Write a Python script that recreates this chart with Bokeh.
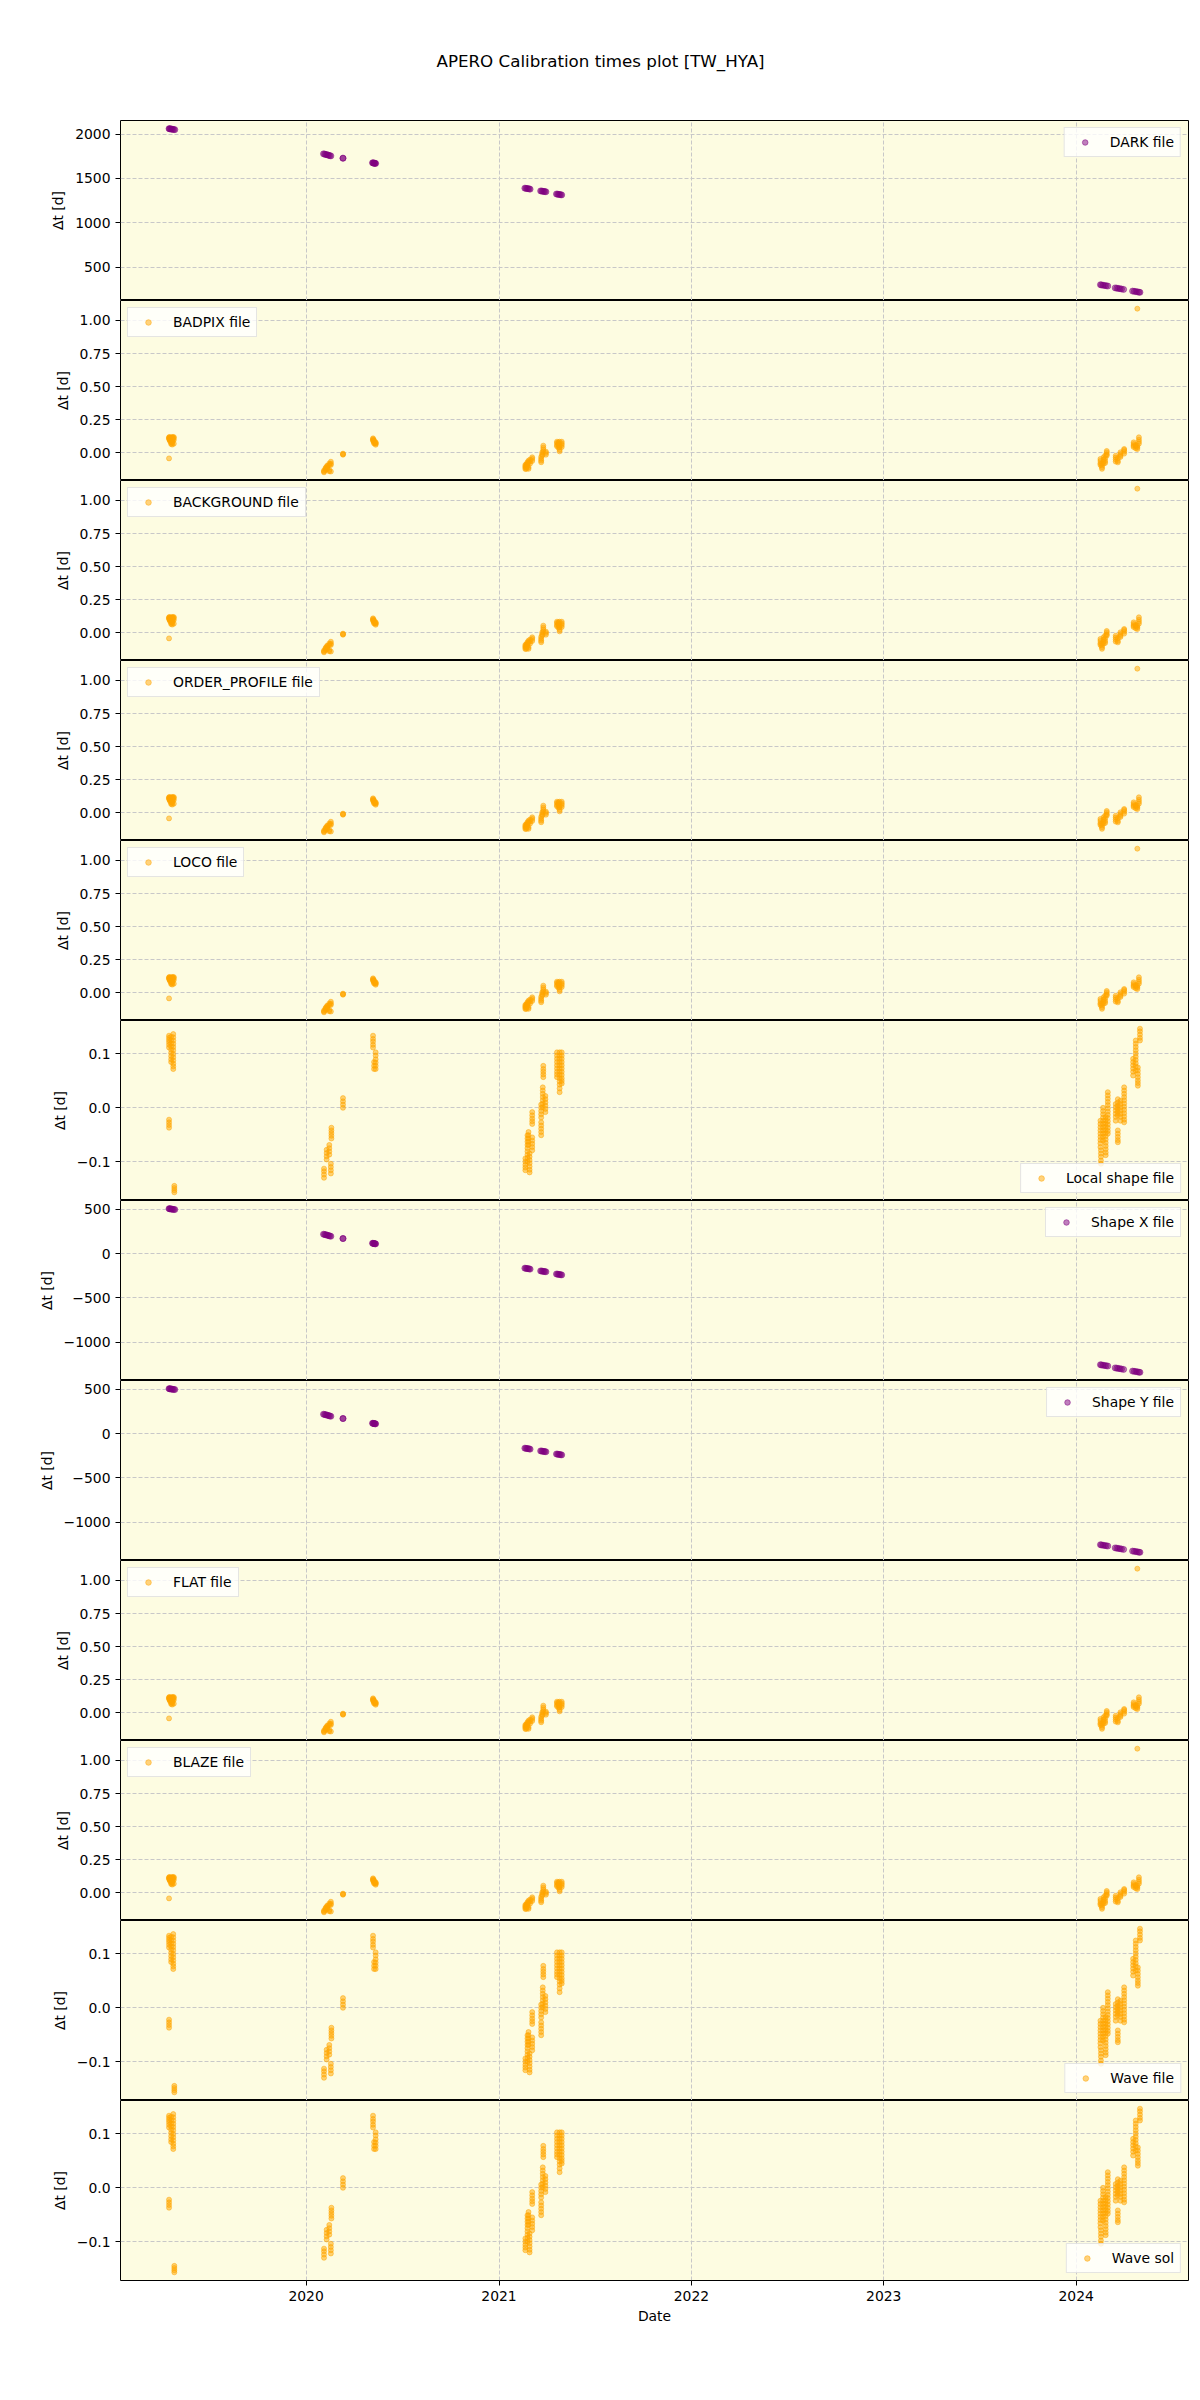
import pandas as pd
from bokeh.plotting import figure
from bokeh.layouts import column
from bokeh.models import FixedTicker, CustomJSTickFormatter, Range1d, ColumnDataSource
from bokeh.embed import file_html
from bokeh.resources import INLINE

TITLE = "APERO Calibration times plot [TW_HYA]"

# ---- DARK / Shape X / Shape Y (purple) ----
dark_dates = ["2019-04-16", "2019-04-17", "2019-04-18", "2019-04-20", "2019-04-21", "2019-04-23", "2019-04-25", "2019-04-27",
              "2020-02-03", "2020-02-05", "2020-02-07", "2020-02-09", "2020-02-11", "2020-02-13", "2020-02-15", "2020-02-17",
              "2020-03-11", "2020-03-11",
              "2020-05-06", "2020-05-07", "2020-05-08", "2020-05-09", "2020-05-10", "2020-05-11", "2020-05-12",
              "2021-02-19", "2021-02-21", "2021-02-23", "2021-02-25", "2021-02-27", "2021-03-01",
              "2021-03-21", "2021-03-23", "2021-03-25", "2021-03-27", "2021-03-29", "2021-03-31",
              "2021-04-20", "2021-04-22", "2021-04-24", "2021-04-26", "2021-04-28", "2021-04-30",
              "2024-02-16", "2024-02-18", "2024-02-21", "2024-02-24", "2024-02-27", "2024-03-01",
              "2024-03-15", "2024-03-18", "2024-03-21", "2024-03-24", "2024-03-27", "2024-03-31",
              "2024-04-17", "2024-04-20", "2024-04-23", "2024-04-26", "2024-04-29", "2024-05-01"]
dark_dt = [2062, 2061, 2060, 2058, 2057, 2055, 2053, 2051,
           1778, 1775, 1772, 1769, 1766, 1762, 1758, 1755,
           1729, 1729,
           1677, 1676, 1675, 1673, 1672, 1671, 1670,
           1391, 1389, 1387, 1385, 1383, 1380,
           1360, 1358, 1356, 1354, 1352, 1350,
           1325, 1323, 1321, 1319, 1317, 1315,
           302, 299, 296, 293, 290, 287,
           266, 263, 260, 257, 253, 249,
           230, 227, 224, 221, 218, 216]
shape_dt = [507, 506, 505, 504, 502, 500, 498, 497,
            219, 216, 213, 210, 207, 203, 199, 196,
            170, 170,
            117, 116, 115, 113, 112, 111, 110,
            -164, -166, -168, -170, -172, -175,
            -195, -197, -199, -201, -203, -205,
            -230, -232, -234, -236, -238, -240,
            -1253, -1256, -1259, -1262, -1265, -1268,
            -1289, -1292, -1295, -1298, -1302, -1306,
            -1325, -1328, -1331, -1334, -1337, -1339]

# ---- BADPIX / BACKGROUND / ORDER_PROFILE / LOCO / FLAT / BLAZE (orange) ----
calib_cols = [
    ("2019-04-16", [0.118, 0.112, 0.106, -0.041]),
    ("2019-04-17", [0.120, 0.110, 0.100]),
    ("2019-04-18", [0.112, 0.095, 0.088, 0.104]),
    ("2019-04-20", [0.118, 0.100, 0.078, 0.068, 0.090]),
    ("2019-04-22", [0.116, 0.105, 0.063, 0.075, 0.085]),
    ("2019-04-23", [0.120, 0.110, 0.095]),
    ("2019-04-25", [0.113, 0.098, 0.070, 0.120]),
    ("2020-02-04", [-0.146, -0.140, -0.132]),
    ("2020-02-07", [-0.120, -0.112, -0.128]),
    ("2020-02-10", [-0.101, -0.096, -0.120, -0.110]),
    ("2020-02-14", [-0.128, -0.138, -0.090, -0.080]),
    ("2020-02-17", [-0.066, -0.080, -0.090, -0.140]),
    ("2020-03-11", [-0.013, -0.005, -0.010]),
    ("2020-05-07", [0.110, 0.098, 0.092, 0.104]),
    ("2020-05-09", [0.085, 0.072, 0.078, 0.095]),
    ("2020-05-12", [0.062, 0.070, 0.080, 0.075]),
    ("2021-02-20", [-0.121, -0.110, -0.100, -0.090]),
    ("2021-02-22", [-0.083, -0.095, -0.110, -0.120]),
    ("2021-02-24", [-0.070, -0.085, -0.100]),
    ("2021-02-26", [-0.058, -0.070, -0.108, -0.120]),
    ("2021-03-01", [-0.050, -0.065, -0.080]),
    ("2021-03-05", [-0.033, -0.045, -0.060]),
    ("2021-03-22", [-0.058, -0.045, -0.030, -0.070]),
    ("2021-03-24", [0.004, -0.010, -0.020]),
    ("2021-03-26", [0.055, 0.040, 0.025, 0.010]),
    ("2021-03-31", [-0.013, 0.000, 0.010]),
    ("2021-04-21", [0.085, 0.075, 0.060, 0.050]),
    ("2021-04-24", [0.080, 0.070, 0.060, 0.040]),
    ("2021-04-26", [0.043, 0.055, 0.012, 0.025, 0.085]),
    ("2021-04-30", [0.072, 0.085, 0.060, 0.045]),
    ("2024-02-16", [-0.078, -0.060, -0.090, -0.045]),
    ("2024-02-19", [-0.108, -0.120, -0.095, -0.080]),
    ("2024-02-22", [-0.033, -0.050, -0.065, -0.080]),
    ("2024-02-25", [-0.020, -0.040, -0.060, -0.075]),
    ("2024-02-28", [0.004, -0.010, -0.020, 0.015]),
    ("2024-03-16", [-0.021, -0.035, -0.050, -0.065]),
    ("2024-03-20", [-0.071, -0.060, -0.040]),
    ("2024-03-25", [-0.008, -0.020, 0.005, -0.030]),
    ("2024-04-01", [0.022, 0.010, -0.005, 0.030]),
    ("2024-04-19", [0.067, 0.055, 0.045, 0.080]),
    ("2024-04-23", [0.060, 0.050, 0.035]),
    ("2024-04-26", [0.043, 0.030, 0.055, 1.088]),
    ("2024-04-29", [0.118, 0.100, 0.085, 0.070]),
]

# ---- Local shape / Wave file / Wave sol (orange) ----
localshape_cols = [
    ("2019-04-16", [0.134, 0.130, 0.126, 0.122, 0.117, 0.112]),
    ("2019-04-16", [-0.022, -0.027, -0.032, -0.037]),
    ("2019-04-20", [0.132, 0.126, 0.120, 0.114, 0.108, 0.102, 0.096, 0.090, 0.085]),
    ("2019-04-24", [0.137, 0.131, 0.125, 0.119, 0.113, 0.107, 0.100, 0.094, 0.088, 0.082, 0.077, 0.072]),
    ("2019-04-26", [-0.145, -0.149, -0.153, -0.157]),
    ("2020-02-04", [-0.113, -0.118, -0.124, -0.130]),
    ("2020-02-09", [-0.078, -0.084, -0.090, -0.096]),
    ("2020-02-14", [-0.069, -0.075, -0.081, -0.087]),
    ("2020-02-17", [-0.104, -0.110, -0.116, -0.122]),
    ("2020-02-18", [-0.037, -0.042, -0.047, -0.052, -0.057]),
    ("2020-03-11", [0.018, 0.012, 0.006, 0.000]),
    ("2020-05-07", [0.134, 0.128, 0.123, 0.117, 0.112]),
    ("2020-05-09", [0.085, 0.078, 0.072]),
    ("2020-05-12", [0.103, 0.097, 0.090, 0.084, 0.078, 0.072]),
    ("2021-02-20", [-0.094, -0.100, -0.106, -0.111, -0.116]),
    ("2021-02-24", [-0.051, -0.057, -0.063, -0.069, -0.075, -0.081, -0.087, -0.093, -0.100]),
    ("2021-02-26", [-0.045, -0.051, -0.057, -0.063, -0.069]),
    ("2021-02-28", [-0.085, -0.091, -0.097, -0.103, -0.109, -0.115, -0.120]),
    ("2021-03-05", [-0.008, -0.014, -0.020, -0.025, -0.030, -0.055, -0.061, -0.067, -0.073, -0.079]),
    ("2021-03-22", [0.006, 0.000, -0.006, -0.012, -0.018, -0.027, -0.033, -0.039, -0.045, -0.051]),
    ("2021-03-25", [0.038, 0.032, 0.026, 0.020, 0.014, 0.008, 0.001]),
    ("2021-03-26", [0.078, 0.072, 0.067, 0.062, 0.057]),
    ("2021-03-30", [0.022, 0.016, 0.010, 0.004, -0.002, -0.008]),
    ("2021-04-21", [0.103, 0.097, 0.091, 0.085, 0.079, 0.073, 0.067, 0.062, 0.057]),
    ("2021-04-26", [0.103, 0.097, 0.091, 0.085, 0.079, 0.073, 0.067, 0.061, 0.055, 0.049, 0.043, 0.036, 0.029]),
    ("2021-04-30", [0.103, 0.097, 0.091, 0.085, 0.079, 0.073, 0.067, 0.061, 0.055, 0.050, 0.045]),
    ("2024-02-16", [-0.024, -0.030, -0.036, -0.042, -0.048, -0.054, -0.060, -0.066, -0.073]),
    ("2024-02-17", [-0.079, -0.085, -0.091, -0.098, -0.104]),
    ("2024-02-21", [0.000, -0.006, -0.012, -0.018, -0.024, -0.030, -0.036, -0.042, -0.048, -0.054, -0.061]),
    ("2024-02-26", [-0.017, -0.023, -0.029, -0.035, -0.041, -0.047, -0.053, -0.059, -0.065, -0.071, -0.077, -0.083, -0.088]),
    ("2024-03-01", [0.029, 0.023, 0.017, 0.011, 0.005, -0.001, -0.007, -0.013, -0.019, -0.025, -0.031, -0.037, -0.043, -0.048]),
    ("2024-03-16", [0.007, 0.001, -0.005, -0.011, -0.017, -0.024]),
    ("2024-03-20", [0.016, 0.010, 0.004, -0.002, -0.008, -0.014, -0.042, -0.048, -0.054, -0.060, -0.064]),
    ("2024-03-25", [0.013, 0.007, 0.001, -0.005, -0.011, -0.017, -0.024]),
    ("2024-04-01", [0.038, 0.032, 0.026, 0.020, 0.014, 0.008, 0.002, -0.004, -0.010, -0.016, -0.022, -0.027]),
    ("2024-04-18", [0.091, 0.085, 0.079, 0.073, 0.067, 0.060]),
    ("2024-04-23", [0.125, 0.119, 0.113, 0.107, 0.101, 0.095, 0.089, 0.083, 0.077, 0.069]),
    ("2024-04-27", [0.075, 0.069, 0.063, 0.057, 0.051, 0.046, 0.041]),
    ("2024-05-01", [0.147, 0.142, 0.136, 0.130, 0.125]),
]

year_ticks = ["2020-01-01", "2021-01-01", "2022-01-01", "2023-01-01", "2024-01-01"]
dark_ticks = [500, 1000, 1500, 2000]
calib_ticks = [0.0, 0.25, 0.5, 0.75, 1.0]
shape_ticks = [-1000, -500, 0, 500]
local_ticks = [-0.1, 0.0, 0.1]

ORANGE = "#FFA500"
PURPLE = "#800080"
BG = "#FDFCE1"
FONT = "DejaVu Sans"


def flatten(cols):
    xs, ys = [], []
    for d, vals in cols:
        for v in vals:
            xs.append(d)
            ys.append(v)
    return xs, ys


calib_dates, calib_dt = flatten(calib_cols)
local_dates, local_dt = flatten(localshape_cols)

panels = [
    ("DARK file", dark_dates, dark_dt, PURPLE, "top_right", dark_ticks, 0),
    ("BADPIX file", calib_dates, calib_dt, ORANGE, "top_left", calib_ticks, 2),
    ("BACKGROUND file", calib_dates, calib_dt, ORANGE, "top_left", calib_ticks, 2),
    ("ORDER_PROFILE file", calib_dates, calib_dt, ORANGE, "top_left", calib_ticks, 2),
    ("LOCO file", calib_dates, calib_dt, ORANGE, "top_left", calib_ticks, 2),
    ("Local shape file", local_dates, local_dt, ORANGE, "bottom_right", local_ticks, 1),
    ("Shape X file", dark_dates, shape_dt, PURPLE, "top_right", shape_ticks, 0),
    ("Shape Y file", dark_dates, shape_dt, PURPLE, "top_right", shape_ticks, 0),
    ("FLAT file", calib_dates, calib_dt, ORANGE, "top_left", calib_ticks, 2),
    ("BLAZE file", calib_dates, calib_dt, ORANGE, "top_left", calib_ticks, 2),
    ("Wave file", local_dates, local_dt, ORANGE, "bottom_right", local_ticks, 1),
    ("Wave sol", local_dates, local_dt, ORANGE, "bottom_right", local_ticks, 1),
]

all_dates = pd.to_datetime(dark_dates + calib_dates + local_dates)
xmin, xmax = all_dates.min(), all_dates.max()
xpad = (xmax - xmin) * 0.05
x_range = Range1d(start=(xmin - xpad).to_pydatetime(), end=(xmax + xpad).to_pydatetime())
year_ms = [pd.Timestamp(t).value / 1e6 for t in year_ticks]

figs = []
n = len(panels)
for i, (label, dates, vals, color, loc, ticks, dec) in enumerate(panels):
    first = i == 0
    last = i == n - 1
    lo, hi = min(vals), max(vals)
    span = hi - lo
    p = figure(x_axis_type="datetime", x_range=x_range,
               y_range=Range1d(lo - 0.05 * span, hi + 0.05 * span),
               frame_width=1068, frame_height=180,
               min_border_left=120, min_border_right=12,
               min_border_top=120 if first else 0,
               min_border_bottom=110 if last else 0,
               x_axis_location="below" if last else None,
               title=TITLE if first else None,
               toolbar_location=None, tools="", output_backend="svg",
               background_fill_color=BG, border_fill_color="white",
               outline_line_color="black", outline_line_width=1)
    src = ColumnDataSource(dict(x=pd.to_datetime(dates), y=vals))
    msize = 6 if color == PURPLE else 5
    p.scatter("x", "y", source=src, size=msize, fill_color=color, line_color=color,
              fill_alpha=0.5, line_alpha=0.5, line_width=1, legend_label=label)

    for g in (p.xgrid, p.ygrid):
        g.grid_line_color = "#c8c8c8"
        g.grid_line_dash = "4 2"
        g.grid_line_width = 1
    p.xgrid.ticker = FixedTicker(ticks=year_ms)

    p.yaxis.ticker = FixedTicker(ticks=ticks)
    p.yaxis.formatter = CustomJSTickFormatter(
        args=dict(d=dec), code="return tick.toFixed(d).replace('-', '\u2212');")
    p.yaxis.axis_label = "\u0394t [d]"
    p.yaxis.axis_label_standoff = 6

    if last:
        p.xaxis.ticker = FixedTicker(ticks=year_ms)
        p.xaxis.formatter = CustomJSTickFormatter(
            code="return String(new Date(tick).getUTCFullYear());")
        p.xaxis.axis_label = "Date"
        p.xaxis.axis_label_standoff = 4

    for ax in p.axis:
        ax.major_label_text_font = FONT
        ax.major_label_text_font_size = "13.9px"
        ax.major_label_text_color = "black"
        ax.axis_label_text_font = FONT
        ax.axis_label_text_font_size = "13.9px"
        ax.axis_label_text_font_style = "normal"
        ax.axis_label_text_color = "black"
        ax.major_tick_out = 5
        ax.major_tick_in = 0
        ax.major_tick_line_color = "black"
        ax.minor_tick_line_color = None
        ax.axis_line_color = None
        ax.major_label_standoff = 5

    lg = p.legend[0]
    lg.location = loc
    lg.margin = 7
    lg.padding = 6
    lg.spacing = 0
    lg.glyph_width = 28
    lg.glyph_height = 14
    lg.label_height = 14
    lg.label_standoff = 11
    lg.label_text_font = FONT
    lg.label_text_font_size = "13.9px"
    lg.label_text_color = "black"
    lg.border_line_color = "#cccccc"
    lg.border_line_width = 1
    lg.background_fill_color = "white"
    lg.background_fill_alpha = 0.8

    if first:
        p.title.align = "left"
        p.title.offset = 316
        p.title.vertical_align = "top"
        p.title.standoff = 96
        p.title.text_font = FONT
        p.title.text_font_size = "16.7px"
        p.title.text_font_style = "normal"
        p.title.text_color = "black"

    figs.append(p)

layout = column(*figs)
open("out.html", "w").write(file_html(layout, INLINE))
